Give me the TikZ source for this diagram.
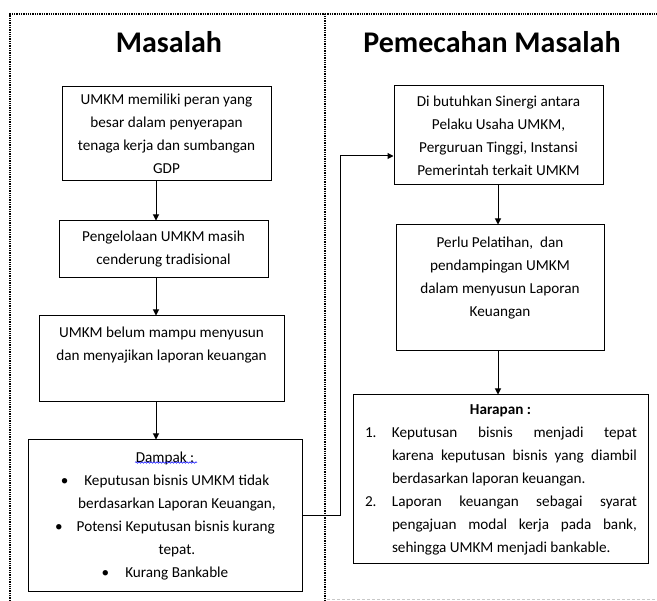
\documentclass[tikz,border=0pt]{standalone}
\usepackage{fontspec}
\setmainfont{Carlito}
\usepackage{tikz}
\usetikzlibrary{arrows.meta, decorations.pathmorphing}
\definecolor{tepi}{RGB}{200,200,200}

\tikzset{
  kotak/.style={draw=black, line width=1pt, inner sep=0pt, font=\fontsize{15.2}{23}\selectfont},
  judul/.style={font=\fontsize{30}{34}\selectfont\bfseries},
  panah/.style={line width=1pt, -{Triangle[length=6pt,width=6pt]}},
  bingkai/.style={line width=1.7pt, dash pattern=on 1.3pt off 1pt},
}

\begin{document}
\begin{tikzpicture}[x=1pt, y=-1pt]
  \useasboundingbox (0,0) rectangle (657,601);

  % bingkai kiri dan kanan
  \draw[bingkai] (10,601) -- (10,14) -- (325,14) -- (325,601);
  \draw[bingkai] (325,14) -- (657,14);
  \draw[tepi, line width=1pt, dash pattern=on 3pt off 2pt] (327,600) -- (657,600);

  \node[judul] (jmasalah) at (169,42) {Masalah};
  \node[judul] (jpemecahan) at (492,42) {Pemecahan Masalah};

  % kolom masalah
  \node[kotak] (peran) at (166.5,134) {\parbox[c][94pt][c]{209pt}{\centering
      UMKM memiliki peran yang\\
      besar dalam penyerapan\\
      tenaga kerja dan sumbangan\\
      GDP}};
  \node[kotak] (kelola) at (163.5,249.5) {\parbox[c][57pt][c]{209pt}{\centering
      Pengelolaan UMKM masih\\
      cenderung tradisional}};
  \node[kotak] (laporan) at (161.5,359) {\parbox[c][86pt][t]{245pt}{\centering
      \vspace*{11pt}
      UMKM belum mampu menyusun\\
      dan menyajikan laporan keuangan}};
  \node[kotak] (dampak) at (165,516) {\parbox[c][152pt][c]{274pt}{\centering
      Dampak :\\
      \textbullet\hspace{16pt}Keputusan bisnis UMKM tidak\\
      \hspace*{24pt}berdasarkan Laporan Keuangan,\\
      \textbullet\hspace{14pt}Potensi Keputusan bisnis kurang\\
      \hspace*{24pt}tepat.\\
      \textbullet\hspace{16pt}Kurang Bankable}};
  \draw[blue, line width=0.5pt, decorate, decoration={snake, amplitude=0.8pt, segment length=3pt}]
    ([xshift=-30pt, yshift=-23pt]dampak.north) -- ++(62,0);

  % kolom pemecahan masalah
  \node[kotak] (sinergi) at (498.5,135.5) {\parbox[c][99pt][c]{209pt}{\centering
      Di butuhkan Sinergi antara\\
      Pelaku Usaha UMKM,\\
      Perguruan Tinggi, Instansi\\
      Pemerintah terkait UMKM}};
  \node[kotak] (latih) at (500,288) {\parbox[c][126pt][t]{208pt}{\centering
      \vspace*{12pt}
      Perlu Pelatihan,~ dan\\
      pendampingan UMKM\\
      dalam menyusun Laporan\\
      Keuangan}};
  \node[kotak] (harapan) at (500.5,479.5) {\parbox[c][169pt][c]{295pt}{\centering
      \textbf{Harapan :}\par
      \leftskip=12pt \rightskip=11pt \parfillskip=0pt plus 1fil \parindent=0pt
      \hyphenpenalty=10000 \emergencystretch=20pt
      \hangindent=27pt \hangafter=1
      \makebox[27pt][l]{1.}Keputusan bisnis menjadi tepat\linebreak karena keputusan bisnis yang diambil\linebreak berdasarkan laporan keuangan.\par
      \hangindent=27pt \hangafter=1
      \makebox[27pt][l]{2.}Laporan keuangan sebagai syarat\linebreak pengajuan modal kerja pada bank,\linebreak sehingga UMKM menjadi bankable.\par}};

  % panah
  \coordinate (jalurkiri) at (156,0);
  \coordinate (jalurkanan) at (498,0);
  \coordinate (belok) at (340,156);
  \draw[panah] (peran.south -| jalurkiri) -- (kelola.north -| jalurkiri);
  \draw[panah] (kelola.south -| jalurkiri) -- (laporan.north -| jalurkiri);
  \draw[panah] (laporan.south -| jalurkiri) -- (dampak.north -| jalurkiri);
  \draw[panah] (sinergi.south -| jalurkanan) -- (latih.north -| jalurkanan);
  \draw[panah] (latih.south -| jalurkanan) -- (harapan.north -| jalurkanan);
  \draw[panah] (dampak.east) -| (belok) -- (belok -| sinergi.west);
\end{tikzpicture}
\end{document}
